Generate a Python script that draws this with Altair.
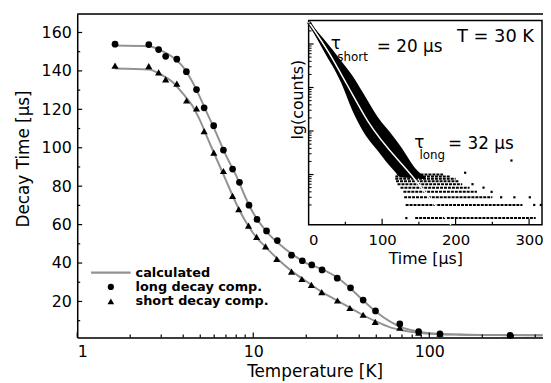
import altair as alt
import pandas as pd

FONT = "DejaVu Sans"
W, H = 471, 327

# ---------------- main panel data ----------------
T_long = [1.64, 2.55, 2.90, 3.18, 3.68, 4.17, 4.76, 5.26, 5.96, 6.77, 7.63, 8.35, 9.46, 10.5,
          11.9, 13.7, 16.5, 19.0, 21.5, 24.6, 30.0, 35.7, 42.1, 49.5, 68, 87, 115, 288]
V_long = [153.9, 153.7, 151.1, 147.6, 146.1, 139.6, 130.3, 120.8, 111.5, 98.8, 88.9, 82.0, 70.1, 62.7,
          56.7, 51.7, 44.1, 41.2, 39.0, 36.4, 32.1, 27.1, 20.7, 15.1, 8.3, 4.3, 3.1, 2.4]
T_short = [1.64, 2.55, 2.90, 3.18, 3.68, 4.18, 4.76, 5.26, 5.97, 6.77, 7.63, 8.27, 9.40, 10.45,
           11.75, 13.6, 16.5, 18.9, 21.4, 24.5, 30.1, 35.4, 42.1, 49.3, 68, 87, 115, 288]
V_short = [142.7, 142.5, 139.2, 135.6, 133.4, 124.6, 120.5, 108.7, 97.5, 87.9, 75.0, 68.0, 59.5, 53.6,
           48.7, 42.1, 35.5, 31.7, 28.6, 24.9, 20.5, 16.6, 13.1, 9.4, 6.4, 3.8, 3.3, 2.4]

T_calc = [1.64, 2.55, 3.0, 3.5, 4.0, 4.5, 5.0, 5.5, 6.0, 7.0, 8.0, 9.0, 10, 12, 14, 17, 20, 25,
          30, 35, 40, 50, 60, 70, 85, 100, 150, 250, 440]
V_calc_long = [153.2, 152.8, 150.5, 147.0, 142.0, 134.5, 126.0, 117.5, 110.0, 96.0, 85.5, 74.5, 66.0,
               56.0, 50.0, 44.0, 40.0, 36.5, 32.5, 27.5, 22.5, 14.5, 9.5, 6.5, 4.5, 3.5, 2.8, 2.5, 2.4]
V_calc_short = [141.2, 140.7, 138.0, 134.0, 128.0, 122.0, 114.0, 105.0, 97.0, 83.0, 71.0, 62.0, 55.5,
                47.5, 41.5, 35.0, 30.5, 24.5, 20.5, 17.0, 14.0, 9.5, 6.5, 5.0, 3.8, 3.2, 2.7, 2.5, 2.4]

legend_labels = ["calculated", "long decay comp.", "short decay comp."]
x_labels = [1, 10, 100]
x_minor = [2, 3, 4, 5, 6, 7, 8, 9, 20, 30, 40, 50, 60, 70, 80, 90, 200, 300, 400]
y_labels = [20, 40, 60, 80, 100, 120, 140, 160]
y_minor = [10, 30, 50, 70, 90, 110, 130, 150]
x_domain = [1, 442.7]
y_domain = [1.3, 169.6]

# ---------------- inset data ----------------
inset_t_domain = [0, 317.6]
inset_c_domain = [0.705, 34760]
band_t = [0, 19.8, 44.4, 59.2, 73.6, 93.8, 115.7, 125.1, 147.6, 158.8]
band_hi = [33000, 13480, 4090, 1905, 774, 212, 73, 44.7, 12.5, 8.8]
band_lo = [29400, 7310, 1273, 305, 101.6, 35.7, 12.5, 8.8, 8.2, 7.8]
row_c = [1, 2, 3, 4, 5, 6, 7, 8, 9, 10]
row_t0 = [145, 132, 130, 129, 125, 121, 119, 118, 118, 120]
row_t1 = [309, 291, 250, 229, 219, 209, 205, 200, 192, 183]
dot_t = [133, 307, 316, 280, 301, 249, 223, 213, 276, 238, 262]
dot_c = [1, 2, 2, 3, 3, 4, 6, 11, 21, 5, 3]
fit_t = [0, 28.3, 51.2, 80.3, 145.4, 193.8]
fit_c = [32100, 6020, 1253, 171, 7.4, 0.70]
ix_labels = [0, 100, 200, 300]
ix_major = [100, 200, 300]
ix_minor = [50, 150, 250]
iy_major = [10, 100, 1000, 10000]
iy_minor = [2, 3, 4, 5, 6, 7, 8, 9, 20, 30, 40, 50, 60, 70, 80, 90, 200, 300, 400, 500, 600, 700,
            800, 900, 2000, 3000, 4000, 5000, 6000, 7000, 8000, 9000, 20000, 30000]

# ---------------- scales & axes ----------------
xs = alt.Scale(type="log", domain=x_domain, nice=False)
ys = alt.Scale(domain=y_domain, nice=False, zero=False)
x_axis = alt.Axis(values=x_labels, format="d", title="Temperature [K]", ticks=False, grid=False,
                  domainColor="black", domainWidth=1.5, labelFont=FONT, labelFontSize=16,
                  labelColor="black", labelPadding=6, titleFont=FONT, titleFontSize=17,
                  titleFontWeight="normal", titleColor="black", titlePadding=5, titleX=240)
y_axis = alt.Axis(values=y_labels, title="Decay Time [µs]", ticks=False, grid=False,
                  domainColor="black", domainWidth=1.5, labelFont=FONT, labelFontSize=16,
                  labelColor="black", labelPadding=6, titleFont=FONT, titleFontSize=17,
                  titleFontWeight="normal", titleColor="black", titlePadding=9, titleY=146)

IX0, IX1, IY0, IY1 = 234, 470, 213, 6.5
ixs = alt.Scale(domain=inset_t_domain, range=[IX0, IX1], nice=False, zero=False)
iys = alt.Scale(type="log", domain=inset_c_domain, range=[IY0, IY1], nice=False)
ix_axis = alt.Axis(values=ix_labels, orient="bottom", offset=-(H - IY0), title="Time [µs]",
                   ticks=False, domain=False, grid=False, labelFont=FONT, labelFontSize=15,
                   labelColor="black", labelPadding=8, titleFont=FONT, titleFontSize=16,
                   titleFontWeight="normal", titleColor="black", titlePadding=3)
iy_axis = alt.Axis(orient="left", offset=-IX0, labels=False, ticks=False, domain=False, grid=False,
                   title="lg(counts)", titleFont=FONT, titleFontSize=16, titleFontWeight="normal",
                   titleColor="black", titlePadding=3, titleY=86)


def X(f):
    return alt.X(f, type="quantitative", scale=xs, axis=x_axis)


def Y(f):
    return alt.Y(f, type="quantitative", scale=ys, axis=y_axis)


def IXe(f):
    return alt.X(f, type="quantitative", scale=ixs, axis=ix_axis)


def IYe(f):
    return alt.Y(f, type="quantitative", scale=iys, axis=iy_axis)


GRAY = "#929292"
calc = pd.concat([
    pd.DataFrame({"T": T_calc, "v": V_calc_long, "s": "long"}),
    pd.DataFrame({"T": T_calc, "v": V_calc_short, "s": "short"}),
])
lines = alt.Chart(calc).mark_line(color=GRAY, strokeWidth=2, interpolate="monotone").encode(
    x=X("T"), y=Y("v"), detail="s:N")
circ = alt.Chart(pd.DataFrame({"T": T_long, "v": V_long})).mark_point(
    shape="circle", filled=True, color="black", size=46, opacity=1).encode(x=X("T"), y=Y("v"))
tri = alt.Chart(pd.DataFrame({"T": T_short, "v": V_short})).mark_point(
    shape="triangle-up", filled=True, color="black", size=52, opacity=1).encode(x=X("T"), y=Y("v"))

xt_major = alt.Chart(pd.DataFrame({"v": x_labels})).mark_rule(color="black", strokeWidth=1.2).encode(
    x=X("v"), y=alt.value(H), y2=alt.value(H - 5))
xt_minor = alt.Chart(pd.DataFrame({"v": x_minor})).mark_rule(color="black", strokeWidth=1.2).encode(
    x=X("v"), y=alt.value(H), y2=alt.value(H - 3))
yt_major = alt.Chart(pd.DataFrame({"v": y_labels})).mark_rule(color="black", strokeWidth=1.2).encode(
    y=Y("v"), x=alt.value(0), x2=alt.value(5))
yt_minor = alt.Chart(pd.DataFrame({"v": y_minor})).mark_rule(color="black", strokeWidth=1.2).encode(
    y=Y("v"), x=alt.value(0), x2=alt.value(3))
top_border = alt.Chart(pd.DataFrame({"v": [0]})).mark_rule(color="black", strokeWidth=1.5).encode(
    x=alt.value(0), x2=alt.value(W), y=alt.value(0))

# legend
LX, LY = 34, [261.5, 276.0, 290.5]
leg_line = alt.Chart(pd.DataFrame({"l": [legend_labels[0]]})).mark_rule(color=GRAY, strokeWidth=2.5).encode(
    x=alt.value(LX - 20), x2=alt.value(LX + 20), y=alt.value(LY[0]))
leg_c = alt.Chart(pd.DataFrame({"l": [legend_labels[1]]})).mark_point(
    shape="circle", filled=True, color="black", size=40, opacity=1).encode(x=alt.value(LX), y=alt.value(LY[1]))
leg_t = alt.Chart(pd.DataFrame({"l": [legend_labels[2]]})).mark_point(
    shape="triangle-up", filled=True, color="black", size=46, opacity=1).encode(x=alt.value(LX), y=alt.value(LY[2]))
leg_txt = [
    alt.Chart(pd.DataFrame({"l": [lab]})).mark_text(
        font=FONT, fontSize=13, fontWeight="bold", align="left", baseline="middle", color="black").encode(
        text="l:N", x=alt.value(59), y=alt.value(yy))
    for lab, yy in zip(legend_labels, LY)
]

main = alt.layer(lines, circ, tri, xt_major, xt_minor, yt_major, yt_minor, top_border,
                 leg_line, leg_c, leg_t, *leg_txt)

# ---------------- inset ----------------
frame = alt.Chart(pd.DataFrame({"t0": [inset_t_domain[0]], "t1": [inset_t_domain[1]],
                                "c0": [inset_c_domain[0]], "c1": [inset_c_domain[1]]})).mark_rect(
    fill="white", stroke="black", strokeWidth=1.5).encode(x=IXe("t0"), x2="t1:Q", y=IYe("c0"), y2="c1:Q")
band = alt.Chart(pd.DataFrame({"t": band_t, "lo": band_lo, "hi": band_hi})).mark_area(
    color="black", interpolate="monotone").encode(x=IXe("t"), y=IYe("lo"), y2="hi:Q")
rows = alt.Chart(pd.DataFrame({"c": row_c, "t0": row_t0, "t1": row_t1})).mark_rule(
    color="black", strokeWidth=2, strokeDash=[3, 1]).encode(x=IXe("t0"), x2="t1:Q", y=IYe("c"))
dots = alt.Chart(pd.DataFrame({"t": dot_t, "c": dot_c})).mark_square(
    color="black", size=5, opacity=1).encode(x=IXe("t"), y=IYe("c"))
fit_df = pd.DataFrame({"t": fit_t, "c": fit_c})
fit_outline = alt.Chart(fit_df[fit_df["t"] <= 30]).mark_line(color="black", strokeWidth=3.5).encode(
    x=IXe("t"), y=IYe("c"))
fit_line = alt.Chart(fit_df).mark_line(color="white", strokeWidth=1.5, interpolate="monotone").encode(
    x=IXe("t"), y=IYe("c"))
ixt_major = alt.Chart(pd.DataFrame({"v": ix_major})).mark_rule(color="black", strokeWidth=1.2).encode(
    x=IXe("v"), y=alt.value(IY0), y2=alt.value(IY0 - 6))
ixt_minor = alt.Chart(pd.DataFrame({"v": ix_minor})).mark_rule(color="black", strokeWidth=1.2).encode(
    x=IXe("v"), y=alt.value(IY0), y2=alt.value(IY0 - 3))
iyt_major = alt.Chart(pd.DataFrame({"v": iy_major})).mark_rule(color="black", strokeWidth=1.2).encode(
    y=IYe("v"), x=alt.value(IX0), x2=alt.value(IX0 + 5))
iyt_minor = alt.Chart(pd.DataFrame({"v": iy_minor})).mark_rule(color="black", strokeWidth=1).encode(
    y=IYe("v"), x=alt.value(IX0), x2=alt.value(IX0 + 3))

ann = [("τ", 261.5, 30.5, 17, "center"), ("short", 263, 43, 12, "left"), ("= 20 µs", 303, 33, 17, "left"),
       ("T = 30 K", 384, 23, 18, "left"), ("τ", 346, 130.5, 17, "center"), ("long", 346, 143, 12, "left"),
       ("= 32 µs", 375, 131, 17, "left")]
ann_charts = [
    alt.Chart(pd.DataFrame({"s": [s]})).mark_text(font=FONT, fontSize=fs, align=al, baseline="middle",
                                                  color="black").encode(text="s:N", x=alt.value(xx), y=alt.value(yy))
    for s, xx, yy, fs, al in ann
]

inset = alt.layer(frame, fit_outline, band, rows, dots, fit_line, ixt_major, ixt_minor,
                  iyt_major, iyt_minor, *ann_charts)

chart = alt.layer(main, inset).resolve_scale(x="independent", y="independent").properties(
    width=W, height=H, autosize=alt.AutoSizeParams(type="none"),
    padding={"left": 70, "top": 4, "right": 0, "bottom": 42}
).configure_view(stroke=None).configure(background="white")

chart.save("out.html", embed_options={"renderer": "svg", "actions": False})
